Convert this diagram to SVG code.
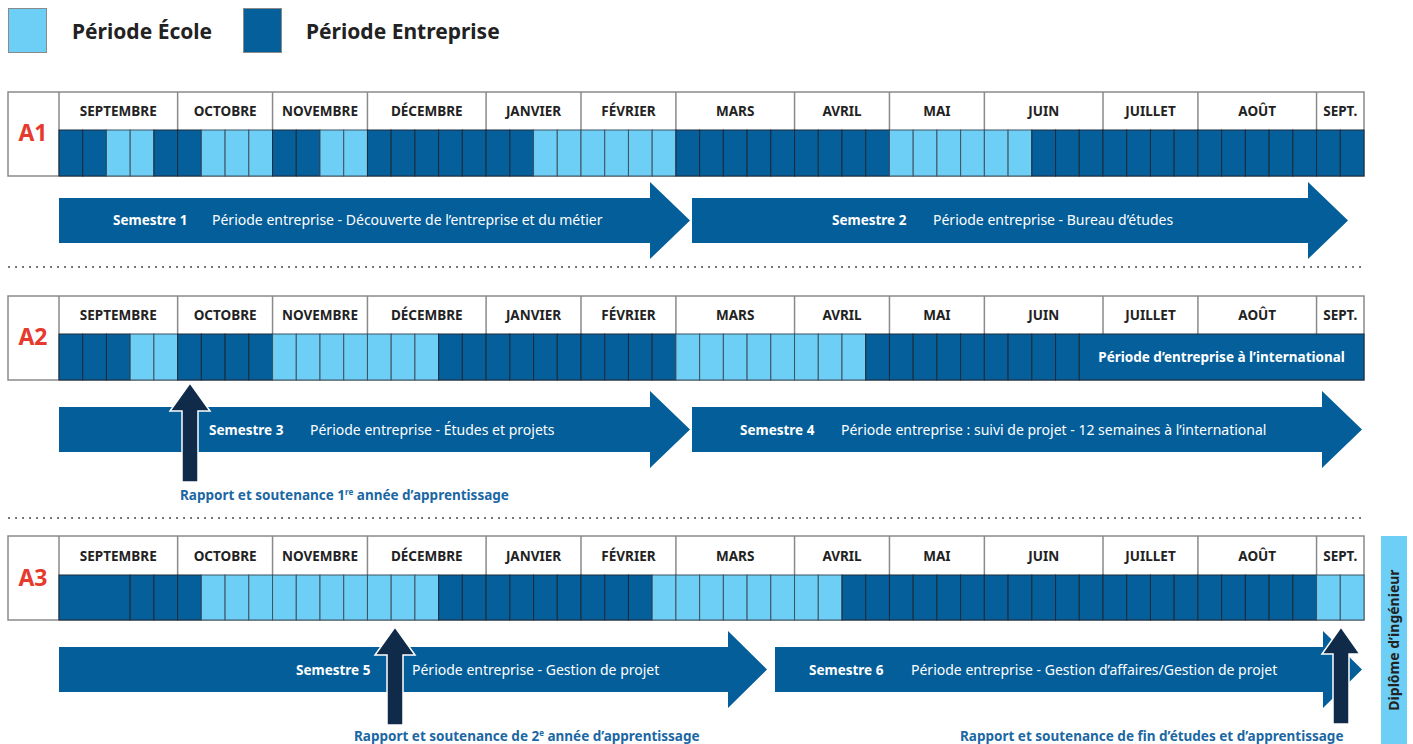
<svg xmlns="http://www.w3.org/2000/svg" width="1413" height="744" viewBox="0 0 1413 744">
<style>
.D{fill:#045f9b;stroke:#1c2b3a;stroke-width:1}
.L{fill:#6dcff6;stroke:#3d5262;stroke-width:1}
.box{fill:#fff;stroke:#8a8a8a;stroke-width:1.5}
.sep{stroke:#8a8a8a;stroke-width:1.5}
.mon{font-family:"Noto Sans",sans-serif;font-weight:700;font-size:13.5px;fill:#222;text-anchor:middle}
.yr{font-family:"Noto Sans",sans-serif;font-weight:700;font-size:23px;fill:#e63a2e;text-anchor:middle}
.arr{fill:#035e9a}
.sem{font-family:"Noto Sans",sans-serif;font-weight:700;font-size:13.5px;fill:#fff}
.desc{font-family:"Noto Sans",sans-serif;font-size:14px;fill:#fff}
.va{fill:#0f2b49;stroke:#fff;stroke-width:1.5}
.rap{font-family:"Noto Sans",sans-serif;font-weight:700;font-size:13.5px;fill:#1b67a3}
.dot{stroke:#555;stroke-width:2;stroke-dasharray:0.1 6.9;stroke-linecap:round}
.leg{font-family:"Noto Sans",sans-serif;font-weight:700;font-size:21px;fill:#222}
</style>

<g id="legend">
<rect x="8.5" y="8.5" width="38" height="44" fill="#6dcff6" stroke="#8a8a8a"/>
<text class="leg" x="72" y="39">Période École</text>
<rect x="243.5" y="8.5" width="38" height="44" fill="#045f9b" stroke="#8a8a8a"/>
<text class="leg" x="306" y="39">Période Entreprise</text>
</g>

<g id="A1">
<rect class="box" x="8" y="92" width="1356" height="84"/>
<line class="sep" x1="59" y1="92" x2="59" y2="176"/>
<g class="sep">
<line x1="177.64" y1="92" x2="177.64" y2="130"/><line x1="272.55" y1="92" x2="272.55" y2="130"/><line x1="367.45" y1="92" x2="367.45" y2="130"/><line x1="486.09" y1="92" x2="486.09" y2="130"/><line x1="581" y1="92" x2="581" y2="130"/><line x1="675.91" y1="92" x2="675.91" y2="130"/><line x1="794.55" y1="92" x2="794.55" y2="130"/><line x1="889.45" y1="92" x2="889.45" y2="130"/><line x1="984.36" y1="92" x2="984.36" y2="130"/><line x1="1103" y1="92" x2="1103" y2="130"/><line x1="1197.91" y1="92" x2="1197.91" y2="130"/><line x1="1316.55" y1="92" x2="1316.55" y2="130"/>
</g>
<text class="yr" x="33" y="141">A1</text>
<g class="mon">
<text x="118.3" y="116">SEPTEMBRE</text><text x="225.1" y="116">OCTOBRE</text><text x="320" y="116">NOVEMBRE</text><text x="426.8" y="116">DÉCEMBRE</text><text x="533.5" y="116">JANVIER</text><text x="628.5" y="116">FÉVRIER</text><text x="735.2" y="116">MARS</text><text x="842" y="116">AVRIL</text><text x="936.9" y="116">MAI</text><text x="1043.7" y="116">JUIN</text><text x="1150.5" y="116">JUILLET</text><text x="1257.2" y="116">AOÛT</text><text x="1340.3" y="116">SEPT.</text>
</g>
<g transform="translate(0,130)">
<rect class="D" x="59" y="0" width="23.73" height="46"/><rect class="D" x="82.73" y="0" width="23.73" height="46"/><rect class="L" x="106.45" y="0" width="23.73" height="46"/><rect class="L" x="130.18" y="0" width="23.73" height="46"/><rect class="D" x="153.91" y="0" width="23.73" height="46"/>
<rect class="D" x="177.64" y="0" width="23.73" height="46"/><rect class="L" x="201.36" y="0" width="23.73" height="46"/><rect class="L" x="225.09" y="0" width="23.73" height="46"/><rect class="L" x="248.82" y="0" width="23.73" height="46"/>
<rect class="D" x="272.55" y="0" width="23.73" height="46"/><rect class="D" x="296.27" y="0" width="23.73" height="46"/><rect class="L" x="320" y="0" width="23.73" height="46"/><rect class="L" x="343.73" y="0" width="23.73" height="46"/>
<rect class="D" x="367.45" y="0" width="23.73" height="46"/><rect class="D" x="391.18" y="0" width="23.73" height="46"/><rect class="D" x="414.91" y="0" width="23.73" height="46"/><rect class="D" x="438.64" y="0" width="23.73" height="46"/><rect class="D" x="462.36" y="0" width="23.73" height="46"/>
<rect class="D" x="486.09" y="0" width="23.73" height="46"/><rect class="D" x="509.82" y="0" width="23.73" height="46"/><rect class="L" x="533.55" y="0" width="23.73" height="46"/><rect class="L" x="557.27" y="0" width="23.73" height="46"/>
<rect class="L" x="581" y="0" width="23.73" height="46"/><rect class="L" x="604.73" y="0" width="23.73" height="46"/><rect class="L" x="628.45" y="0" width="23.73" height="46"/><rect class="L" x="652.18" y="0" width="23.73" height="46"/>
<rect class="D" x="675.91" y="0" width="23.73" height="46"/><rect class="D" x="699.64" y="0" width="23.73" height="46"/><rect class="D" x="723.36" y="0" width="23.73" height="46"/><rect class="D" x="747.09" y="0" width="23.73" height="46"/><rect class="D" x="770.82" y="0" width="23.73" height="46"/>
<rect class="D" x="794.55" y="0" width="23.73" height="46"/><rect class="D" x="818.27" y="0" width="23.73" height="46"/><rect class="D" x="842" y="0" width="23.73" height="46"/><rect class="D" x="865.73" y="0" width="23.73" height="46"/>
<rect class="L" x="889.45" y="0" width="23.73" height="46"/><rect class="L" x="913.18" y="0" width="23.73" height="46"/><rect class="L" x="936.91" y="0" width="23.73" height="46"/><rect class="L" x="960.64" y="0" width="23.73" height="46"/>
<rect class="L" x="984.36" y="0" width="23.73" height="46"/><rect class="L" x="1008.09" y="0" width="23.73" height="46"/><rect class="D" x="1031.82" y="0" width="23.73" height="46"/><rect class="D" x="1055.55" y="0" width="23.73" height="46"/><rect class="D" x="1079.27" y="0" width="23.73" height="46"/>
<rect class="D" x="1103" y="0" width="23.73" height="46"/><rect class="D" x="1126.73" y="0" width="23.73" height="46"/><rect class="D" x="1150.45" y="0" width="23.73" height="46"/><rect class="D" x="1174.18" y="0" width="23.73" height="46"/>
<rect class="D" x="1197.91" y="0" width="23.73" height="46"/><rect class="D" x="1221.64" y="0" width="23.73" height="46"/><rect class="D" x="1245.36" y="0" width="23.73" height="46"/><rect class="D" x="1269.09" y="0" width="23.73" height="46"/><rect class="D" x="1292.82" y="0" width="23.73" height="46"/>
<rect class="D" x="1316.55" y="0" width="23.73" height="46"/><rect class="D" x="1340.27" y="0" width="23.73" height="46"/>
</g>
</g>

<g id="A2">
<rect class="box" x="8" y="296" width="1356" height="84"/>
<line class="sep" x1="59" y1="296" x2="59" y2="380"/>
<g class="sep">
<line x1="177.64" y1="296" x2="177.64" y2="334"/><line x1="272.55" y1="296" x2="272.55" y2="334"/><line x1="367.45" y1="296" x2="367.45" y2="334"/><line x1="486.09" y1="296" x2="486.09" y2="334"/><line x1="581" y1="296" x2="581" y2="334"/><line x1="675.91" y1="296" x2="675.91" y2="334"/><line x1="794.55" y1="296" x2="794.55" y2="334"/><line x1="889.45" y1="296" x2="889.45" y2="334"/><line x1="984.36" y1="296" x2="984.36" y2="334"/><line x1="1103" y1="296" x2="1103" y2="334"/><line x1="1197.91" y1="296" x2="1197.91" y2="334"/><line x1="1316.55" y1="296" x2="1316.55" y2="334"/>
</g>
<text class="yr" x="33" y="345">A2</text>
<g class="mon">
<text x="118.3" y="320">SEPTEMBRE</text><text x="225.1" y="320">OCTOBRE</text><text x="320" y="320">NOVEMBRE</text><text x="426.8" y="320">DÉCEMBRE</text><text x="533.5" y="320">JANVIER</text><text x="628.5" y="320">FÉVRIER</text><text x="735.2" y="320">MARS</text><text x="842" y="320">AVRIL</text><text x="936.9" y="320">MAI</text><text x="1043.7" y="320">JUIN</text><text x="1150.5" y="320">JUILLET</text><text x="1257.2" y="320">AOÛT</text><text x="1340.3" y="320">SEPT.</text>
</g>
<g transform="translate(0,334)">
<rect class="D" x="59" y="0" width="23.73" height="46"/><rect class="D" x="82.73" y="0" width="23.73" height="46"/><rect class="D" x="106.45" y="0" width="23.73" height="46"/><rect class="L" x="130.18" y="0" width="23.73" height="46"/><rect class="L" x="153.91" y="0" width="23.73" height="46"/>
<rect class="D" x="177.64" y="0" width="23.73" height="46"/><rect class="D" x="201.36" y="0" width="23.73" height="46"/><rect class="D" x="225.09" y="0" width="23.73" height="46"/><rect class="D" x="248.82" y="0" width="23.73" height="46"/>
<rect class="L" x="272.55" y="0" width="23.73" height="46"/><rect class="L" x="296.27" y="0" width="23.73" height="46"/><rect class="L" x="320" y="0" width="23.73" height="46"/><rect class="L" x="343.73" y="0" width="23.73" height="46"/>
<rect class="L" x="367.45" y="0" width="23.73" height="46"/><rect class="L" x="391.18" y="0" width="23.73" height="46"/><rect class="L" x="414.91" y="0" width="23.73" height="46"/><rect class="D" x="438.64" y="0" width="23.73" height="46"/><rect class="D" x="462.36" y="0" width="23.73" height="46"/>
<rect class="D" x="486.09" y="0" width="23.73" height="46"/><rect class="D" x="509.82" y="0" width="23.73" height="46"/><rect class="D" x="533.55" y="0" width="23.73" height="46"/><rect class="D" x="557.27" y="0" width="23.73" height="46"/>
<rect class="D" x="581" y="0" width="23.73" height="46"/><rect class="D" x="604.73" y="0" width="23.73" height="46"/><rect class="D" x="628.45" y="0" width="23.73" height="46"/><rect class="D" x="652.18" y="0" width="23.73" height="46"/>
<rect class="L" x="675.91" y="0" width="23.73" height="46"/><rect class="L" x="699.64" y="0" width="23.73" height="46"/><rect class="L" x="723.36" y="0" width="23.73" height="46"/><rect class="L" x="747.09" y="0" width="23.73" height="46"/><rect class="L" x="770.82" y="0" width="23.73" height="46"/>
<rect class="L" x="794.55" y="0" width="23.73" height="46"/><rect class="L" x="818.27" y="0" width="23.73" height="46"/><rect class="L" x="842" y="0" width="23.73" height="46"/><rect class="D" x="865.73" y="0" width="23.73" height="46"/>
<rect class="D" x="889.45" y="0" width="23.73" height="46"/><rect class="D" x="913.18" y="0" width="23.73" height="46"/><rect class="D" x="936.91" y="0" width="23.73" height="46"/><rect class="D" x="960.64" y="0" width="23.73" height="46"/>
<rect class="D" x="984.36" y="0" width="23.73" height="46"/><rect class="D" x="1008.09" y="0" width="23.73" height="46"/><rect class="D" x="1031.82" y="0" width="23.73" height="46"/><rect class="D" x="1055.55" y="0" width="23.73" height="46"/>
<rect class="D" x="1079.27" y="0" width="284.73" height="46"/>
<text class="sem" x="1221.6" y="28" text-anchor="middle">Période d’entreprise à l’international</text>
</g>
</g>

<g id="A3">
<rect class="box" x="8" y="536" width="1356" height="84"/>
<line class="sep" x1="59" y1="536" x2="59" y2="620"/>
<g class="sep">
<line x1="177.64" y1="536" x2="177.64" y2="575"/><line x1="272.55" y1="536" x2="272.55" y2="575"/><line x1="367.45" y1="536" x2="367.45" y2="575"/><line x1="486.09" y1="536" x2="486.09" y2="575"/><line x1="581" y1="536" x2="581" y2="575"/><line x1="675.91" y1="536" x2="675.91" y2="575"/><line x1="794.55" y1="536" x2="794.55" y2="575"/><line x1="889.45" y1="536" x2="889.45" y2="575"/><line x1="984.36" y1="536" x2="984.36" y2="575"/><line x1="1103" y1="536" x2="1103" y2="575"/><line x1="1197.91" y1="536" x2="1197.91" y2="575"/><line x1="1316.55" y1="536" x2="1316.55" y2="575"/>
</g>
<text class="yr" x="33" y="586">A3</text>
<g class="mon">
<text x="118.3" y="561">SEPTEMBRE</text><text x="225.1" y="561">OCTOBRE</text><text x="320" y="561">NOVEMBRE</text><text x="426.8" y="561">DÉCEMBRE</text><text x="533.5" y="561">JANVIER</text><text x="628.5" y="561">FÉVRIER</text><text x="735.2" y="561">MARS</text><text x="842" y="561">AVRIL</text><text x="936.9" y="561">MAI</text><text x="1043.7" y="561">JUIN</text><text x="1150.5" y="561">JUILLET</text><text x="1257.2" y="561">AOÛT</text><text x="1340.3" y="561">SEPT.</text>
</g>
<g transform="translate(0,575)">
<rect class="D" x="59" y="0" width="71.18" height="45"/><rect class="D" x="130.18" y="0" width="23.73" height="45"/><rect class="D" x="153.91" y="0" width="23.73" height="45"/>
<rect class="D" x="177.64" y="0" width="23.73" height="45"/><rect class="L" x="201.36" y="0" width="23.73" height="45"/><rect class="L" x="225.09" y="0" width="23.73" height="45"/><rect class="L" x="248.82" y="0" width="23.73" height="45"/>
<rect class="L" x="272.55" y="0" width="23.73" height="45"/><rect class="L" x="296.27" y="0" width="23.73" height="45"/><rect class="L" x="320" y="0" width="23.73" height="45"/><rect class="L" x="343.73" y="0" width="23.73" height="45"/>
<rect class="L" x="367.45" y="0" width="23.73" height="45"/><rect class="L" x="391.18" y="0" width="23.73" height="45"/><rect class="L" x="414.91" y="0" width="23.73" height="45"/><rect class="D" x="438.64" y="0" width="23.73" height="45"/><rect class="D" x="462.36" y="0" width="23.73" height="45"/>
<rect class="D" x="486.09" y="0" width="23.73" height="45"/><rect class="D" x="509.82" y="0" width="23.73" height="45"/><rect class="D" x="533.55" y="0" width="23.73" height="45"/><rect class="D" x="557.27" y="0" width="23.73" height="45"/>
<rect class="D" x="581" y="0" width="23.73" height="45"/><rect class="D" x="604.73" y="0" width="23.73" height="45"/><rect class="D" x="628.45" y="0" width="23.73" height="45"/><rect class="L" x="652.18" y="0" width="23.73" height="45"/>
<rect class="L" x="675.91" y="0" width="23.73" height="45"/><rect class="L" x="699.64" y="0" width="23.73" height="45"/><rect class="L" x="723.36" y="0" width="23.73" height="45"/><rect class="L" x="747.09" y="0" width="23.73" height="45"/><rect class="L" x="770.82" y="0" width="23.73" height="45"/>
<rect class="L" x="794.55" y="0" width="23.73" height="45"/><rect class="L" x="818.27" y="0" width="23.73" height="45"/><rect class="D" x="842" y="0" width="23.73" height="45"/><rect class="D" x="865.73" y="0" width="23.73" height="45"/>
<rect class="D" x="889.45" y="0" width="23.73" height="45"/><rect class="D" x="913.18" y="0" width="23.73" height="45"/><rect class="D" x="936.91" y="0" width="23.73" height="45"/><rect class="D" x="960.64" y="0" width="23.73" height="45"/>
<rect class="D" x="984.36" y="0" width="23.73" height="45"/><rect class="D" x="1008.09" y="0" width="23.73" height="45"/><rect class="D" x="1031.82" y="0" width="23.73" height="45"/><rect class="D" x="1055.55" y="0" width="23.73" height="45"/><rect class="D" x="1079.27" y="0" width="23.73" height="45"/>
<rect class="D" x="1103" y="0" width="23.73" height="45"/><rect class="D" x="1126.73" y="0" width="23.73" height="45"/><rect class="D" x="1150.45" y="0" width="23.73" height="45"/><rect class="D" x="1174.18" y="0" width="23.73" height="45"/>
<rect class="D" x="1197.91" y="0" width="23.73" height="45"/><rect class="D" x="1221.64" y="0" width="23.73" height="45"/><rect class="D" x="1245.36" y="0" width="23.73" height="45"/><rect class="D" x="1269.09" y="0" width="23.73" height="45"/><rect class="D" x="1292.82" y="0" width="23.73" height="45"/>
<rect class="L" x="1316.55" y="0" width="23.73" height="45"/><rect class="L" x="1340.27" y="0" width="23.73" height="45"/>
</g>
</g>

<g id="separators">
<line class="dot" x1="9" y1="267" x2="1366" y2="267"/>
<line class="dot" x1="9" y1="518" x2="1366" y2="518"/>
</g>

<g id="semestres">
<g id="s1"><polygon class="arr" points="59,198 650,198 650,182 690,220.5 650,259 650,243 59,243"/>
<text class="sem" x="113" y="225">Semestre 1</text><text class="desc" x="212" y="225">Période entreprise - Découverte de l’entreprise et du métier</text></g>
<g id="s2"><polygon class="arr" points="692,198 1308,198 1308,182 1348,220.5 1308,259 1308,243 692,243"/>
<text class="sem" x="832" y="225">Semestre 2</text><text class="desc" x="933" y="225">Période entreprise - Bureau d’études</text></g>
<g id="s3"><polygon class="arr" points="59,407 650,407 650,391 690,429.5 650,468 650,452 59,452"/>
<text class="sem" x="209" y="435">Semestre 3</text><text class="desc" x="310" y="435">Période entreprise - Études et projets</text></g>
<g id="s4"><polygon class="arr" points="692,407 1322,407 1322,391 1362,429.5 1322,468 1322,452 692,452"/>
<text class="sem" x="740" y="435">Semestre 4</text><text class="desc" x="841" y="435">Période entreprise : suivi de projet - 12 semaines à l’international</text></g>
<g id="s5"><polygon class="arr" points="59,647 728,647 728,631 767,669.5 728,708 728,692 59,692"/>
<text class="sem" x="296" y="675">Semestre 5</text><text class="desc" x="412" y="675">Période entreprise - Gestion de projet</text></g>
<g id="s6"><polygon class="arr" points="775,647 1323,647 1323,631 1362,669.5 1323,708 1323,692 775,692"/>
<text class="sem" x="809" y="675">Semestre 6</text><text class="desc" x="911" y="675">Période entreprise - Gestion d’affaires/Gestion de projet</text></g>
</g>

<g id="connectors">
<polygon class="va" points="190,383 210,411 198,411 198,482 182,482 182,411 170,411"/>
<polygon class="va" points="395,627 415,655 403,655 403,725 387,725 387,655 375,655"/>
<polygon class="va" points="1341,627 1360,654 1349,654 1349,724 1333,724 1333,654 1322,654"/>
</g>

<g id="labels">
<text class="rap" x="180" y="500">Rapport et soutenance 1<tspan font-size="8" dy="-5">re</tspan><tspan dy="5"> année d’apprentissage</tspan></text>
<text class="rap" x="354" y="741">Rapport et soutenance de 2<tspan font-size="8" dy="-5">e</tspan><tspan dy="5"> année d’apprentissage</tspan></text>
<text class="rap" x="960" y="741">Rapport et soutenance de fin d’études et d’apprentissage</text>
</g>

<g id="diplome">
<rect x="1381" y="536" width="26" height="208" fill="#6dcff6"/>
<text class="sem" style="fill:#222;font-size:14px" x="1399" y="640" text-anchor="middle" transform="rotate(-90 1399 640)">Diplôme d’ingénieur</text>
</g>
</svg>
